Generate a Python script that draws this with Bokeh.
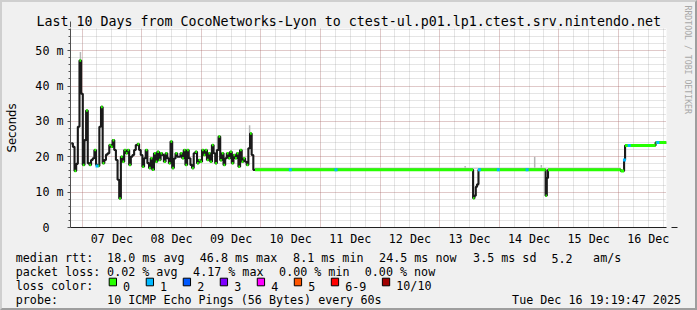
import math
from datetime import datetime
from bokeh.plotting import figure
from bokeh.layouts import column, row
from bokeh.models import (Range1d, FixedTicker, Arrow, NormalHead,
                          ColumnDataSource)
from bokeh.core.properties import value
from bokeh.embed import file_html
from bokeh.resources import INLINE

# ---------------- data ----------------
TITLE = "Last 10 Days from CocoNetworks-Lyon to ctest-ul.p01.lp1.ctest.srv.nintendo.net"
WINDOW_END = "2025-12-16 19:19:47"
REF_MIDNIGHT = "2025-12-07 00:00:00"
day_labels = ["07 Dec", "08 Dec", "09 Dec", "10 Dec", "11 Dec",
              "12 Dec", "13 Dec", "14 Dec", "15 Dec", "16 Dec"]
y_ticks = [0, 10, 20, 30, 40, 50]
y_tick_labels = ["0\u00a0\u00a0", "10 m", "20 m", "30 m", "40 m", "50 m"]

# median rtt (ms), one value every 40 minutes from jag_start
jag_start = "2025-12-06 19:37:00"
jag_step_min = 40
jag_median = [
    23.8, 22.8, 16.0, 18.0, 28.5, 47.2, 37.8, 17.7, 24.7, 33.1,
    18.2, 17.7, 19.1, 19.6, 21.9, 17.7, 17.4, 28.5, 34.1, 18.2,
    19.1, 20.6, 21.0, 23.3, 22.8, 24.7, 21.9, 19.1, 13.5, 8.2,
    20.0, 18.6, 21.9, 21.0, 21.9, 17.7, 20.0, 20.5, 21.9, 23.3,
    23.6, 21.9, 20.5, 17.2, 19.6, 21.9, 18.2, 16.8, 19.6, 16.3,
    21.0, 18.6, 21.4, 19.1, 21.0, 20.5, 18.6, 21.0, 19.6, 18.2,
    24.3, 16.8, 19.5, 21.0, 20.0, 20.0, 21.0, 19.6, 21.9, 17.7,
    21.9, 19.6, 17.7, 16.8, 21.0, 21.4, 18.2, 19.1, 18.6, 21.9,
    20.5, 21.9, 19.1, 21.0, 18.6, 23.3, 21.0, 18.2, 21.9, 25.7,
    19.0, 21.0, 17.7, 19.6, 21.0, 19.6, 21.4, 18.2, 20.5, 19.6,
    21.0, 17.2, 21.9, 18.6, 19.6, 18.6, 17.7, 22.4, 26.6, 20.5,
    16.3,
]
# afterwards: median rtt (ms) at each change
flat_times = ["2025-12-09 21:36", "2025-12-13 13:27", "2025-12-13 14:00",
              "2025-12-13 14:32", "2025-12-13 15:03", "2025-12-13 15:37",
              "2025-12-14 18:39", "2025-12-14 19:08", "2025-12-14 19:37",
              "2025-12-16 00:56", "2025-12-16 02:15", "2025-12-16 02:39",
              "2025-12-16 14:56"]
flat_median = [16.3, 8.3, 9.0, 11.5, 12.2, 16.3, 9.0, 14.0, 16.3,
               16.0, 19.1, 23.2, 24.0]

# samples with 1/10 loss
loss1_times = ["2025-12-07 06:00", "2025-12-10 11:51", "2025-12-11 06:15",
               "2025-12-13 16:00", "2025-12-13 23:36", "2025-12-14 11:12",
               "2025-12-16 02:24", "2025-12-16 04:18", "2025-12-16 15:51"]
loss1_median = [17.4, 16.3, 16.3, 16.3, 16.3, 16.3, 19.1, 23.2, 24.0]

# smoke (ping spread) spikes
smoke_times = ["2025-12-06 23:20", "2025-12-09 19:27", "2025-12-13 10:15",
               "2025-12-14 14:15", "2025-12-14 16:56"]
smoke_low = [47.2, 26.6, 16.3, 16.3, 16.3]
smoke_high = [49.6, 28.9, 17.4, 20.0, 17.7]
smoke_band_start = "2025-12-09 21:36"
smoke_band_end = "2025-12-16 00:56"
smoke_band_top = 16.75

loss_labels = ["0", "1", "2", "3", "4", "5", "6-9", "10/10"]
loss_colors = ["#26ff00", "#00b8ff", "#0059ff", "#7e00ff", "#ff00ff",
               "#ff5500", "#ff0000", "#a10000"]

legend_rows = [
    ["median rtt:", "18.0 ms avg", "46.8 ms max", "8.1 ms min",
     "24.5 ms now", "3.5 ms sd", "5.2", "am/s"],
    ["packet loss:", "0.02 % avg", "4.17 % max", "0.00 % min", "0.00 % now"],
    ["loss color:"],
    ["probe:", "10 ICMP Echo Pings (56 Bytes) every 60s"],
]
timestamp_text = "Tue Dec 16 19:19:47 2025"
watermark = "RRDTOOL / TOBI OETIKER"

# ---------------- helpers ----------------
REF0 = datetime.fromisoformat(REF_MIDNIGHT)


def hx(s):
    return (datetime.fromisoformat(s) - REF0).total_seconds() / 3600.0


t_end = hx(WINDOW_END)
t_start = t_end - 240.0

jag_t = [hx(jag_start) + i * jag_step_min / 60.0 for i in range(len(jag_median))]
T = jag_t + [hx(s) for s in flat_times]
V = jag_median + flat_median
T_next = T[1:] + [t_end]

MONO = "DejaVu Sans Mono"
FS = "11.7px"
BG = "#f0f0f0"

# page: 2px border on each side -> content 693 x 306
W_IN = 693
W_WM = 15                 # right strip holding the vertical watermark
W_MAIN = W_IN - W_WM
H_MAIN = 246
H_LEG = 60
FL, FT = 64, 26
FR = W_MAIN - FL - 600
FB = H_MAIN - FT - 200

# ---------------- main figure ----------------
p = figure(width=W_MAIN, height=H_MAIN, x_range=Range1d(t_start, t_end),
           y_range=Range1d(0, 56.27), toolbar_location=None,
           output_backend="svg", min_border_left=FL, min_border_right=FR,
           min_border_top=FT, min_border_bottom=FB)
p.frame_align = False
p.background_fill_color = "white"
p.border_fill_color = BG
p.outline_line_color = None

p.title.text = TITLE
p.title.align = "left"
p.title.offset = -34
p.title.standoff = 0
p.title.text_font = MONO
p.title.text_font_size = "13.3px"
p.title.text_font_style = "normal"
p.title.text_color = "black"

midnights = [24 * k for k in range(0, 10)]
noons = [24 * k + 12 for k in range(0, 10)]
six_hours = [6 * k for k in range(-1, 40) if t_start <= 6 * k <= t_end]

p.xaxis.ticker = FixedTicker(ticks=noons, minor_ticks=[])
p.xaxis.major_label_overrides = {n: lab for n, lab in zip(noons, day_labels)}
p.xaxis.major_tick_line_color = None
p.xaxis.minor_tick_line_color = None
p.xaxis.axis_line_color = "#202020"
p.xaxis.major_label_standoff = -2
p.xaxis.major_label_text_font = MONO
p.xaxis.major_label_text_font_size = FS
p.xaxis.major_label_text_color = "black"

p.yaxis.ticker = FixedTicker(ticks=y_ticks, minor_ticks=list(range(0, 57, 2)))
p.yaxis.major_label_overrides = {v: lab for v, lab in zip(y_ticks, y_tick_labels)}
p.yaxis.axis_line_color = "#505050"
p.yaxis.major_tick_line_color = "#505050"
p.yaxis.minor_tick_line_color = "#505050"
p.yaxis.major_tick_in = 0
p.yaxis.minor_tick_in = 0
p.yaxis.major_tick_out = 3
p.yaxis.minor_tick_out = 2
p.yaxis.major_label_standoff = 4
p.yaxis.major_label_text_font = MONO
p.yaxis.major_label_text_font_size = FS
p.yaxis.major_label_text_color = "black"
p.yaxis.axis_label = "Seconds"
p.yaxis.axis_label_text_font = "DejaVu Sans"
p.yaxis.axis_label_text_font_size = "11.7px"
p.yaxis.axis_label_text_font_style = "normal"
p.yaxis.axis_label_text_color = "black"
p.yaxis.axis_label_standoff = 13

p.xgrid.ticker = FixedTicker(ticks=midnights, minor_ticks=six_hours)
for g in (p.xgrid, p.ygrid):
    g.grid_line_color = "#c83c3c"
    g.grid_line_alpha = 0.33
    g.grid_line_dash = "1 1"
    g.minor_grid_line_color = "#8c8c8c"
    g.minor_grid_line_alpha = 0.45
    g.minor_grid_line_dash = "1 1"

# smoke
p.segment(x0=[hx(s) for s in smoke_times], y0=smoke_low,
          x1=[hx(s) for s in smoke_times], y1=smoke_high,
          line_color="#b4b4b4", line_width=1.5)
p.segment(x0=[hx(smoke_band_start)], y0=[smoke_band_top],
          x1=[hx(smoke_band_end)], y1=[smoke_band_top],
          line_color="#d2d2d2", line_width=1.5)

# median step line (black)
p.step(x=T + [t_end], y=V + [V[-1]], mode="after",
       line_color="#1a1a1a", line_width=2.1)

# green (0 loss) median segments: long runs and local turning points
gx0, gx1, gy, gw = [], [], [], []
for i in range(len(V)):
    dur = T_next[i] - T[i]
    ext = False
    if 0 < i < len(V) - 1:
        a, b, c = V[i - 1], V[i], V[i + 1]
        ext = (b > a and b > c) or (b < a and b < c)
    if dur >= 1.0 or ext:
        gx0.append(T[i]); gx1.append(T_next[i]); gy.append(V[i])
        gw.append(3 if dur >= 1.0 else 2.5)
src = ColumnDataSource(dict(x0=gx0, x1=gx1, y=gy, w=gw))
p.segment(x0="x0", y0="y", x1="x1", y1="y", line_width="w",
          line_color=loss_colors[0], source=src)

# 1/10 loss samples
p.scatter(x=[hx(s) for s in loss1_times], y=loss1_median, marker="square",
          size=3, fill_color=loss_colors[1], line_color=None)

# arrows at axis ends
p.add_layout(Arrow(end=NormalHead(size=6, fill_color="#7f0000",
                                  line_color="#7f0000"),
                   x_start=600, y_start=0, x_end=607, y_end=0,
                   start_units="screen", end_units="screen",
                   line_color="#202020", line_width=1))
p.add_layout(Arrow(end=NormalHead(size=6, fill_color="#7f0000",
                                  line_color="#7f0000"),
                   x_start=0, y_start=200, x_end=0, y_end=206,
                   start_units="screen", end_units="screen",
                   line_color="#505050", line_width=1))


def strip(width, height, x0, ytop):
    """A figure whose frame is the whole strip; x = page px, y = -page px."""
    f = figure(width=width, height=height, x_range=Range1d(x0, x0 + width),
               y_range=Range1d(-(ytop + height), -ytop),
               toolbar_location=None, output_backend="svg",
               min_border_left=0, min_border_right=0, min_border_top=0,
               min_border_bottom=0, x_axis_location=None,
               y_axis_location=None)
    f.frame_align = False
    f.background_fill_color = BG
    f.border_fill_color = BG
    f.outline_line_color = None
    f.xgrid.visible = False
    f.ygrid.visible = False
    return f


# ---------------- watermark strip ----------------
wm = strip(W_WM, H_MAIN, 2 + W_MAIN, 2)
wm.text(x=[687], y=[-5], text=[watermark], angle=-math.pi / 2,
        text_font=value(MONO), text_font_size=value("8.2px"),
        text_align="left", text_baseline="middle", text_color="#a8a8a8")

# ---------------- legend strip ----------------
leg = strip(W_IN, H_LEG, 2, 2 + H_MAIN)

row_base = [257.7, 271.7, 285.7, 299.5]
row_x = [
    [16, 107.3, 200, 293.3, 379.3, 473.3, 551.7, 593.3],
    [16, 107.3, 193.3, 279.3, 365],
    [16],
    [16, 107.3],
]
tx, ty, tt = [], [], []
for base, xs, items in zip(row_base, row_x, legend_rows):
    for X, s in zip(xs, items):
        tx.append(X - 0.7); ty.append(-base); tt.append(s)

sw_l, sw_r, sw_c = [], [], []
sw_x = 108.7
for lab, col in zip(loss_labels, loss_colors):
    sw_l.append(sw_x); sw_r.append(sw_x + 7.3); sw_c.append(col)
    tx.append(sw_x + 14.6 - 0.7); ty.append(-row_base[2]); tt.append(lab)
    sw_x += 30.0 + 7.02 * len(lab)

leg.text(x=tx, y=ty, text=tt, text_font=value(MONO),
         text_font_size=value(FS), text_baseline="alphabetic",
         text_align="left", text_color="black")
leg.text(x=[680.5], y=[-row_base[3]], text=[timestamp_text],
         text_font=value(MONO), text_font_size=value(FS),
         text_baseline="alphabetic", text_align="right", text_color="black")
leg.quad(left=sw_l, right=sw_r, top=[-277.7] * len(sw_l),
         bottom=[-285.3] * len(sw_l), fill_color=sw_c, line_color="black",
         line_width=1)

layout = column(row(p, wm, spacing=0), leg, spacing=0,
                styles={"border-top": "2px solid #cfcfcf",
                        "border-left": "2px solid #cfcfcf",
                        "border-right": "2px solid #9e9e9e",
                        "border-bottom": "2px solid #9e9e9e",
                        "background-color": BG})

open("out.html", "w").write(file_html(layout, INLINE))
